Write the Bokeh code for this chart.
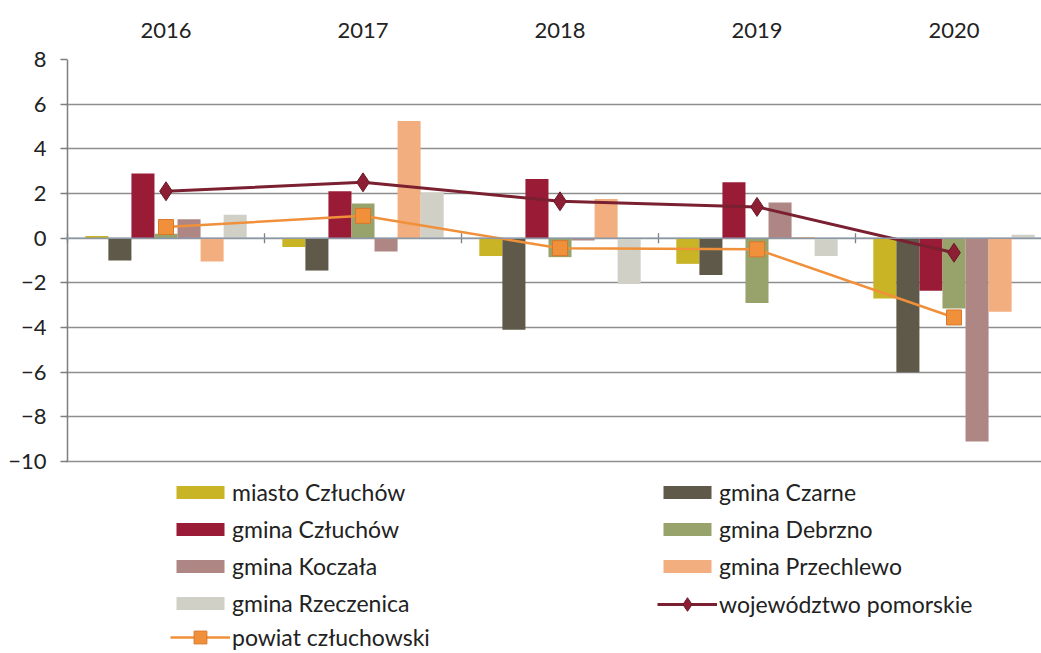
import math
from bokeh.plotting import figure
from bokeh.models import (ColumnDataSource, LinearAxis, FixedTicker, Legend, LegendItem,
                          Range1d, Span)
from bokeh.embed import file_html
from bokeh.resources import INLINE

years = ["2016", "2017", "2018", "2019", "2020"]
series_names = ["miasto Człuchów", "gmina Czarne", "gmina Człuchów", "gmina Debrzno",
                "gmina Koczała", "gmina Przechlewo", "gmina Rzeczenica"]
miasto_czluchow = [0.1, -0.4, -0.8, -1.15, -2.7]
gmina_czarne = [-1.0, -1.45, -4.1, -1.65, -6.0]
gmina_czluchow = [2.9, 2.1, 2.65, 2.5, -2.35]
gmina_debrzno = [0.2, 1.55, -0.85, -2.9, -3.15]
gmina_koczala = [0.85, -0.6, -0.1, 1.6, -9.1]
gmina_przechlewo = [-1.05, 5.25, 1.75, 0.05, -3.3]
gmina_rzeczenica = [1.05, 2.05, -2.05, -0.8, 0.15]
wojewodztwo_pomorskie = [2.1, 2.5, 1.65, 1.4, -0.65]
powiat_czluchowski = [0.5, 1.0, -0.45, -0.5, -3.55]
y_ticks = [-10, -8, -6, -4, -2, 0, 2, 4, 6, 8]

bar_values = [miasto_czluchow, gmina_czarne, gmina_czluchow, gmina_debrzno,
              gmina_koczala, gmina_przechlewo, gmina_rzeczenica]
bar_colors = ["#c8b424", "#5e5949", "#9a1b36", "#98a36c", "#ae8785", "#f3ae80", "#d0d0c6"]
WOJ_LINE, WOJ_FILL, WOJ_EDGE = "#7a2030", "#8c1f33", "#6a1a28"
POW_LINE, POW_FILL, POW_EDGE = "#f0903a", "#f0903a", "#d8782a"
FONT = "Lato"

# frame: x=0 at px 67 (197 px per year), y: 8 at px 59, -10 at px 461; frame runs to bottom
px_per_unit = (461 - 59) / (max(y_ticks) - min(y_ticks))
y_bottom = min(y_ticks) - (653 - 461) / px_per_unit
p = figure(width=1041, height=653, output_backend="svg", toolbar_location=None,
           x_range=Range1d(-2 / 197, (1041 - 67) / 197), y_range=Range1d(y_bottom, max(y_ticks)),
           min_border_left=65, min_border_right=0, min_border_top=59, min_border_bottom=0)
p.outline_line_color = None
p.xaxis.visible = False
p.xgrid.visible = False

# left axis (line drawn as a segment so it stops at the last tick)
p.yaxis.ticker = FixedTicker(ticks=y_ticks)
p.yaxis.axis_line_color = None
p.yaxis.major_tick_line_color = "#7f7f7f"
p.yaxis.major_tick_line_width = 1.5
p.yaxis.major_tick_out = 5
p.yaxis.major_tick_in = 2
p.yaxis.minor_tick_line_color = None
p.yaxis.major_label_standoff = 14
p.yaxis.major_label_text_font = FONT
p.yaxis.major_label_text_font_size = "22px"
p.yaxis.major_label_text_color = "#222222"
p.ygrid.ticker = FixedTicker(ticks=y_ticks)
p.ygrid.grid_line_color = "#8e8e8e"
p.ygrid.grid_line_width = 1.6
p.segment(x0=[0], y0=[min(y_ticks)], x1=[0], y1=[max(y_ticks)],
          line_color="#7f7f7f", line_width=1.5)

# year labels on top
centers = [i + 0.5 for i in range(len(years))]
top_axis = LinearAxis(ticker=FixedTicker(ticks=centers),
                      major_label_overrides={c: y for c, y in zip(centers, years)})
top_axis.axis_line_color = None
top_axis.major_tick_line_color = None
top_axis.minor_tick_line_color = None
top_axis.major_label_standoff = 16
top_axis.major_label_text_font = FONT
top_axis.major_label_text_font_size = "22px"
top_axis.major_label_text_color = "#222222"
p.add_layout(top_axis, "above")

bw = 0.117
bar_renderers = []
for k, (vals, col) in enumerate(zip(bar_values, bar_colors)):
    src = ColumnDataSource(dict(x=[c + (k - 3) * bw for c in centers], top=vals))
    bar_renderers.append(p.vbar(x="x", top="top", bottom=0, width=bw, source=src,
                                fill_color=col, line_color=None))

# zero line with ticks at the year boundaries
p.add_layout(Span(location=0, dimension="width", line_color="#8a98a8", line_width=1.5))
bounds = list(range(len(years) + 1))
tick_half = 5 / px_per_unit
p.segment(x0=bounds, y0=[-tick_half] * len(bounds), x1=bounds, y1=[tick_half] * len(bounds),
          line_color="#7f7f7f", line_width=1.3)

src_w = ColumnDataSource(dict(x=centers, y=wojewodztwo_pomorskie))
lw = p.line("x", "y", source=src_w, line_color=WOJ_LINE, line_width=3)
mw = p.scatter("x", "y", source=src_w, marker="diamond", size=19,
               fill_color=WOJ_FILL, line_color=WOJ_EDGE)
src_p = ColumnDataSource(dict(x=centers, y=powiat_czluchowski))
lp = p.line("x", "y", source=src_p, line_color=POW_LINE, line_width=2.5)
mp = p.scatter("x", "y", source=src_p, marker="square", size=15,
               fill_color=POW_FILL, line_color=POW_EDGE)

def make_legend(items, loc, glyph_height=16):
    lg = Legend(items=items, location=loc, orientation="vertical",
                glyph_width=60, glyph_height=glyph_height, label_height=24, spacing=9,
                label_standoff=2, padding=0, margin=0,
                label_text_font=FONT, label_text_font_size="23px",
                label_text_color="#222222",
                border_line_alpha=0, background_fill_alpha=0)
    p.add_layout(lg, "center")

col1_bars = [LegendItem(label=series_names[k], renderers=[bar_renderers[k]]) for k in (0, 2, 4, 6)]
col2_bars = [LegendItem(label=series_names[k], renderers=[bar_renderers[k]]) for k in (1, 3, 5)]
make_legend(col1_bars, (105, 36))
make_legend(col2_bars, (592, 73))
make_legend([LegendItem(label="powiat człuchowski", renderers=[lp, mp])], (105, 0), glyph_height=32)
make_legend([LegendItem(label="województwo pomorskie", renderers=[lw, mw])], (592, 32), glyph_height=34)

open("out.html", "w").write(file_html(p, INLINE))
